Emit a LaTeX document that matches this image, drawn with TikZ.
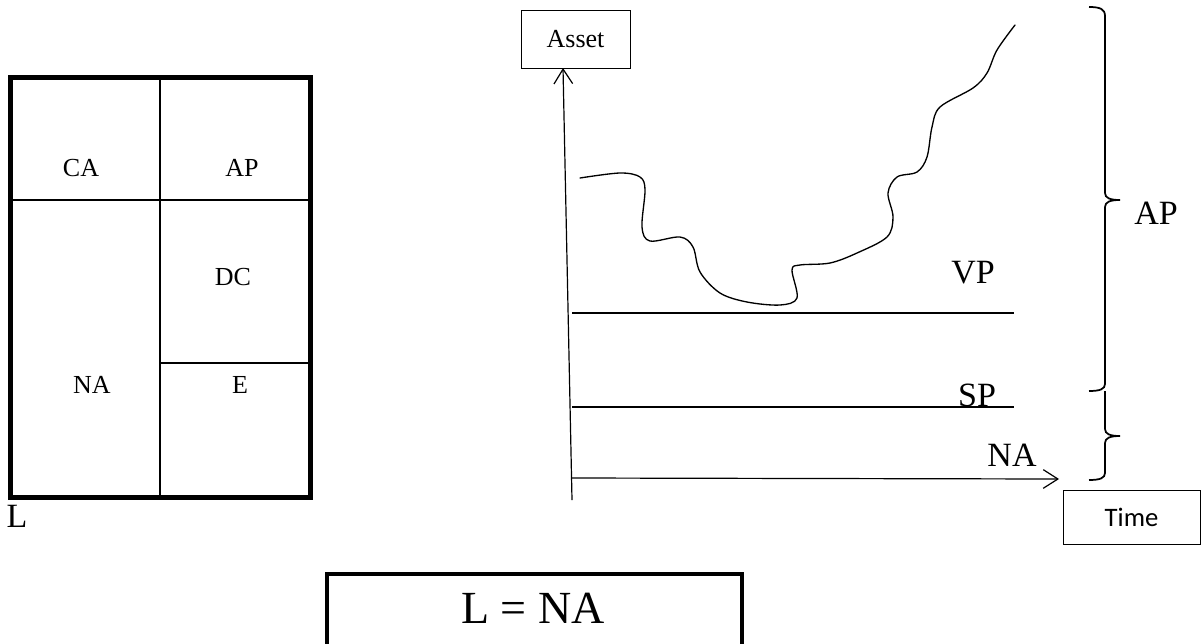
\documentclass[tikz,border=0pt]{standalone}
\usepackage{fontspec}
\setmainfont{Liberation Serif}
\newfontfamily\calibrifont{Carlito}
\usetikzlibrary{arrows.meta}

\begin{document}
\begin{tikzpicture}[x=0.75pt,y=-0.75pt,>={Straight Barb[length=11pt,width=14pt,line width=0.9pt]},
  cell/.style={font=\fontsize{19.5}{20}\selectfont},
  biglabel/.style={font=\fontsize{25.5}{26}\selectfont},
  axisbox/.style={draw,line width=0.75pt,inner sep=0pt}]
  \useasboundingbox (0,0) rectangle (1202,643);
  % Balance sheet
  \draw[line width=3.75pt] (10.5,77) rectangle (310.5,497.5);
  \draw[line width=1.1pt] (10.5,200) -- (310.5,200);
  \draw[line width=1.1pt] (160,77) -- (160,497.5);
  \draw[line width=1.1pt] (160,363) -- (310.5,363);
  \node[cell] (ca) at (81,168) {CA};
  \node[cell] (apbox) at (242,168) {AP};
  \node[cell] (dc) at (233,277) {DC};
  \node[cell] (nabox) at (92,385) {NA};
  \node[cell] (e) at (240,385) {E};
  \node[biglabel] (l) at (17,516) {L};
  % Axes
  \node[axisbox,minimum width=81.75pt,minimum height=43.5pt,cell] (asset) at (575.5,39) {Asset};
  \node[axisbox,minimum width=102.75pt,minimum height=40.5pt,font=\calibrifont\fontsize{20}{21}\selectfont] (time) at (1131.5,517) {Time};
  \coordinate (ybot) at (572,500);
  \coordinate (ytop) at (563,68);
  \coordinate (xo) at (572,478);
  \coordinate (xend) at (1059,479);
  \draw[->,line width=0.9pt] (ybot) -- (ytop);
  \draw[->,line width=0.9pt] (xo) -- (xend);
  % Levels
  \draw[line width=1pt] (572,313) -- (1014,313);
  \draw[line width=1pt] (572,407) -- (1014,407);
  \node[biglabel] (vp) at (973,273) {VP};
  \node[biglabel] (sp) at (977,395) {SP};
  \node[biglabel] (na) at (1012,455) {NA};
  % Asset value path
  \draw[line width=1pt,line cap=round] plot[smooth,tension=0.55] coordinates {
    (580,178) (620,173) (640,177) (645,190) (642,227) (650,241) (680,237)
    (693,247) (700,272) (720,293) (747,302) (780,305) (797,298) (792,270)
    (800,265) (830,263) (857,253) (887,237) (893,217) (888,193) (897,177)
    (917,172) (927,157) (932,127) (940,107) (973,88) (987,73) (997,50) (1015,25)};
  % Braces
  \draw[line width=1.3pt] (1089,7) .. controls (1100,7) and (1105,9) .. (1105,16)
    -- (1105,193) .. controls (1105,198) and (1110,200) .. (1120,200)
    .. controls (1110,200) and (1105,202) .. (1105,207)
    -- (1105,384) .. controls (1105,389) and (1100,391) .. (1089,391);
  \draw[line width=1.3pt] (1105,391) -- (1105,429) .. controls (1105,434) and (1110,436) .. (1120,436)
    .. controls (1110,436) and (1105,438) .. (1105,443)
    -- (1105,473) .. controls (1105,478) and (1100,480) .. (1089,480);
  \node[biglabel] (ap) at (1156,213) {AP};
  % Identity
  \node[draw,line width=2.8pt,minimum width=311pt,minimum height=54pt,inner sep=0pt] (eqbox) at (534.5,610) {};
  \node[font=\fontsize{34.5}{35}\selectfont] (eq) at (533,608.5) {L = NA};
\end{tikzpicture}
\end{document}
